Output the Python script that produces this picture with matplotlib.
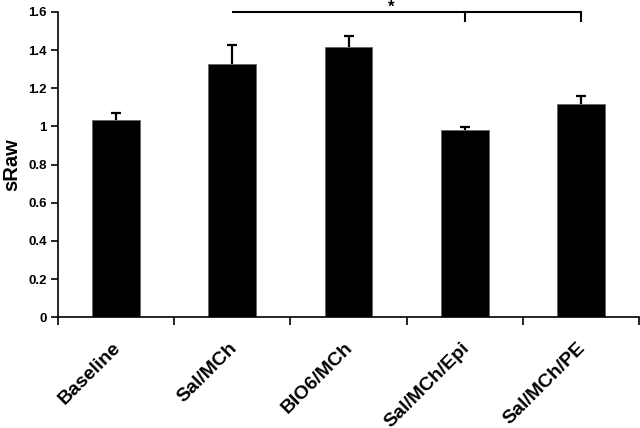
import matplotlib
matplotlib.use("Agg")
import matplotlib.pyplot as plt
import matplotlib.transforms as mtransforms
import numpy as np

categories = ["Baseline", "Sal/MCh", "BIO6/MCh", "Sal/MCh/Epi", "Sal/MCh/PE"]
values = [1.035, 1.329, 1.415, 0.981, 1.118]
errors = [0.033, 0.096, 0.059, 0.014, 0.043]
yticks = [0, 0.2, 0.4, 0.6, 0.8, 1, 1.2, 1.4, 1.6]
ytick_labels = ["0", "0.2", "0.4", "0.6", "0.8", "1", "1.2", "1.4", "1.6"]

plt.rcParams['font.family'] = ['Liberation Sans', 'DejaVu Sans']

fig = plt.figure(figsize=(6.4, 4.28), dpi=100)
ax = fig.add_axes([0.0906, 0.259, 0.908, 0.713])

x = np.arange(len(categories))
vals = np.array(values)
errs = np.array(errors)
ax.vlines(x, vals, vals + errs, color='black', lw=1.6, zorder=1)
ax.plot(x, vals + errs, linestyle='none', marker='_', markersize=7,
        markeredgewidth=1.6, color='black', zorder=1)
ax.bar(x, vals, width=0.41, color='black', edgecolor='#666666', linewidth=0.6, zorder=2)

ax.set_xlim(-0.5, len(categories) - 0.5)
ax.set_ylim(0, 1.6)
ax.set_yticks(yticks)
ax.set_yticklabels(ytick_labels, fontsize=9.5, fontweight='bold')
ax.set_xticks(np.arange(len(categories) + 1) - 0.5)
ax.set_xticklabels([])
ax.set_xticks(x, minor=True)
ax.set_xticklabels(categories, minor=True, rotation=45, ha='right', va='top',
                   rotation_mode='anchor', fontsize=14, fontweight='bold')
ax.tick_params(axis='x', which='minor', length=0, pad=16)
ax.tick_params(axis='x', which='major', length=6, width=1.2, direction='out')
ax.tick_params(axis='y', length=5, width=1.2, direction='out', pad=3)
off = mtransforms.ScaledTranslation(-3 / 72, 0, fig.dpi_scale_trans)
for lbl in ax.get_xticklabels(minor=True):
    lbl.set_transform(lbl.get_transform() + off)
ax.spines['top'].set_visible(False)
ax.spines['right'].set_visible(False)
ax.spines['left'].set_linewidth(1.2)
ax.spines['bottom'].set_linewidth(1.2)
ax.set_ylabel("sRaw", fontsize=14.5, fontweight='bold', labelpad=5)

# significance bracket
yb = 1.6
ax.plot([1, 4], [yb, yb], color='black', lw=1.5, clip_on=False, solid_capstyle='butt')
ax.plot([3, 3], [yb, yb - 0.045], color='black', lw=1.5, clip_on=False)
ax.plot([4, 4], [yb, yb - 0.045], color='black', lw=1.5, clip_on=False)
ax.text(2.37, 1.662, "*", ha='center', va='top', fontsize=12, fontweight='bold', clip_on=False)

fig.savefig("out.png", dpi=100)
